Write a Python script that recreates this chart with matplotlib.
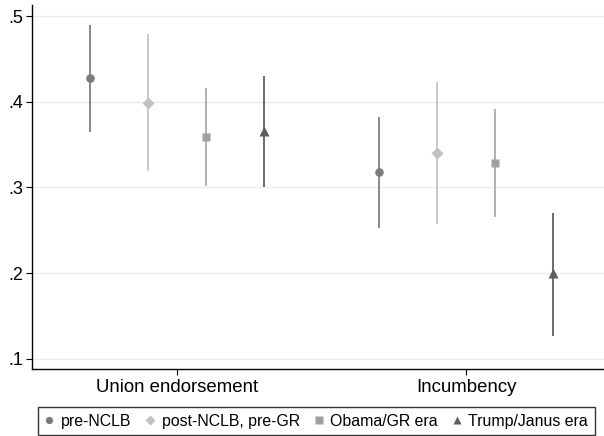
import numpy as np
import matplotlib
matplotlib.use("Agg")
import matplotlib.pyplot as plt
from matplotlib.lines import Line2D

plt.rcParams['font.family'] = ['Liberation Sans', 'DejaVu Sans']

# estimates
groups = ["Union endorsement", "Incumbency"]
eras = ["pre-NCLB", "post-NCLB, pre-GR", "Obama/GR era", "Trump/Janus era"]
est = [[0.428, 0.399, 0.359, 0.366],
       [0.318, 0.340, 0.328, 0.200]]
lo = [[0.365, 0.319, 0.302, 0.300],
      [0.253, 0.257, 0.266, 0.126]]
hi = [[0.490, 0.479, 0.416, 0.430],
      [0.382, 0.423, 0.391, 0.270]]

colors = ["#7c7c7c", "#c0c0c0", "#a0a0a0", "#5e5e5e"]
line_colors = ["#888888", "#c8c8c8", "#b0b0b0", "#6a6a6a"]
markers = ["o", "D", "s", "^"]
msizes = [6.2, 6.0, 6.3, 7.5]

fig = plt.figure(figsize=(6.04, 4.36), dpi=100)
ax = fig.add_axes([32/604, 67/436, 1 - 32/604, 1 - 72/436])

for g in range(len(groups)):
    for k in range(len(eras)):
        x = 1 + k + 5 * g
        ax.vlines(x, lo[g][k], hi[g][k], color=line_colors[k], lw=1.4, zorder=2)
        ax.plot(x, est[g][k], marker=markers[k], color=colors[k],
                ms=msizes[k], mec='none', ls='none', zorder=3)

ax.set_xlim(0, 9.88)
ax.set_ylim(0.088, 0.513)
ax.set_yticks([0.1, 0.2, 0.3, 0.4, 0.5])
ax.set_yticklabels([".1", ".2", ".3", ".4", ".5"])
ax.set_xticks([2.5, 7.5])
ax.set_xticklabels(groups)
ax.yaxis.grid(True, color="#ececec", lw=1)
ax.set_axisbelow(True)
for s in ["top", "right"]:
    ax.spines[s].set_visible(False)
ax.spines["left"].set_linewidth(1)
ax.spines["bottom"].set_linewidth(1)
ax.tick_params(axis='y', labelsize=13, length=4, width=0.8, color='black', pad=2)
ax.tick_params(axis='x', labelsize=13.4, length=4, width=0.8, color='black', pad=3)

handles = [Line2D([], [], marker=markers[k], color=colors[k], ls='none',
                  mec='none', ms=msizes[k] * 0.85) for k in range(len(eras))]
leg = fig.legend(handles, eras, loc='lower left', ncol=4,
                 bbox_to_anchor=(38/604, 1/436), frameon=True, fontsize=11.4,
                 handlelength=0.6, handletextpad=0.43, columnspacing=0.9,
                 borderpad=0.4, borderaxespad=0, fancybox=False, edgecolor='black')
leg.get_frame().set_linewidth(1)

fig.savefig("out.png", dpi=100)
